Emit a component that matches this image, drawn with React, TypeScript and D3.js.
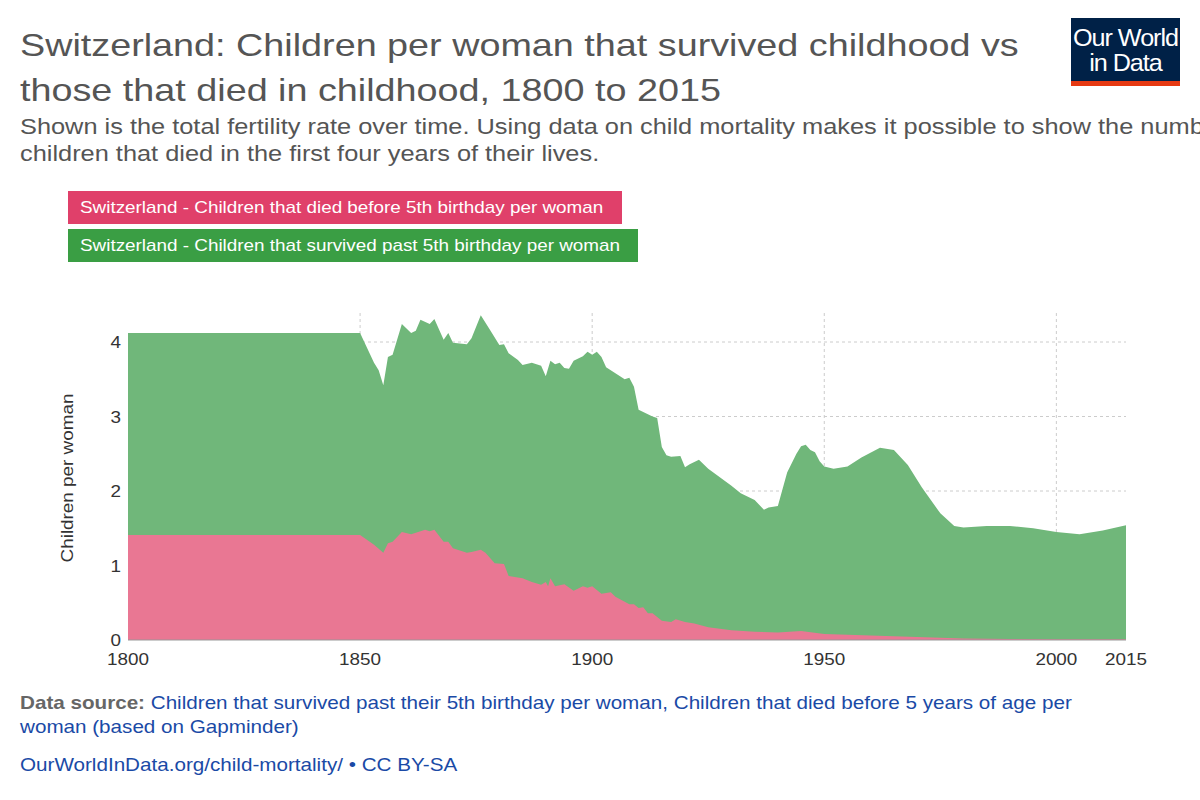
import * as d3 from "d3";

const totalYears = [1800, 1850, 1853, 1854, 1855, 1856, 1857, 1859, 1861, 1862, 1863, 1865, 1866, 1868, 1869, 1870, 1873, 1874, 1876, 1878, 1880, 1881, 1882, 1884, 1885, 1887, 1889, 1890, 1891, 1892, 1893, 1894, 1895, 1896, 1898, 1899, 1900, 1901, 1902, 1903, 1905, 1907, 1908, 1909, 1910, 1913, 1914, 1915, 1916, 1917, 1919, 1920, 1921, 1923, 1925, 1930, 1932, 1935, 1937, 1938, 1940, 1942, 1944, 1945, 1946, 1947, 1948, 1949, 1950, 1952, 1955, 1958, 1962, 1965, 1968, 1971, 1975, 1978, 1980, 1985, 1990, 1995, 2000, 2005, 2010, 2015];
const totalValues = [4.12, 4.12, 3.72, 3.62, 3.42, 3.8, 3.83, 4.24, 4.12, 4.15, 4.3, 4.24, 4.31, 4.03, 4.12, 3.99, 3.97, 4.05, 4.36, 4.16, 3.96, 3.97, 3.85, 3.76, 3.69, 3.72, 3.68, 3.54, 3.75, 3.7, 3.72, 3.65, 3.64, 3.75, 3.81, 3.87, 3.83, 3.87, 3.8, 3.66, 3.58, 3.5, 3.52, 3.4, 3.09, 3.0, 2.98, 2.59, 2.48, 2.46, 2.47, 2.32, 2.36, 2.42, 2.3, 2.07, 1.97, 1.88, 1.75, 1.78, 1.8, 2.25, 2.5, 2.6, 2.62, 2.55, 2.52, 2.4, 2.33, 2.3, 2.33, 2.45, 2.58, 2.55, 2.35, 2.05, 1.7, 1.53, 1.51, 1.53, 1.53, 1.5, 1.45, 1.42, 1.47, 1.54];

const diedYears = [1800, 1850, 1853, 1855, 1856, 1857, 1859, 1861, 1864, 1865, 1866, 1868, 1869, 1870, 1873, 1874, 1876, 1877, 1879, 1881, 1882, 1885, 1887, 1889, 1890, 1890.5, 1891, 1892, 1894, 1896, 1898, 1899, 1900, 1902, 1904, 1905, 1908, 1909, 1910, 1911, 1912, 1913, 1915, 1917, 1918, 1920, 1922, 1925, 1930, 1935, 1940, 1945, 1950, 1955, 1960, 1965, 1970, 1975, 1980, 1990, 2000, 2015];
const diedValues = [1.41, 1.41, 1.28, 1.17, 1.3, 1.32, 1.45, 1.42, 1.48, 1.46, 1.48, 1.32, 1.32, 1.23, 1.17, 1.18, 1.21, 1.17, 1.03, 1.02, 0.86, 0.83, 0.78, 0.74, 0.78, 0.72, 0.83, 0.72, 0.75, 0.66, 0.72, 0.7, 0.72, 0.62, 0.64, 0.58, 0.48, 0.48, 0.43, 0.44, 0.36, 0.36, 0.26, 0.24, 0.28, 0.24, 0.22, 0.17, 0.13, 0.11, 0.1, 0.12, 0.08, 0.07, 0.06, 0.05, 0.04, 0.03, 0.02, 0.015, 0.01, 0.01];

const xTicks = [1800, 1850, 1900, 1950, 2000, 2015];
const yTicks = [0, 1, 2, 3, 4];

const legendItems = [
  { label: "Switzerland - Children that died before 5th birthday per woman", color: "#e0406a", w: 554 },
  { label: "Switzerland - Children that survived past 5th birthday per woman", color: "#3a9e44", w: 570 },
];

const font = "Arial, 'Liberation Sans', sans-serif";
const sx = 1.18;

function T({ x, y, sx: s = sx, children, anchor = "start", ...rest }: any) {
  return (
    <g transform={`translate(${x},${y}) scale(${s},1)`}>
      <text textAnchor={anchor} {...rest}>{children}</text>
    </g>
  );
}

export default function App() {
  const x = d3.scaleLinear().domain([1800, 2015]).range([128, 1126]);
  const y = d3.scaleLinear().domain([0, 4]).range([640, 342]);

  const totalArea = d3
    .area<number>()
    .x((_, i) => x(totalYears[i]))
    .y0(y(0))
    .y1((d) => y(d))(totalValues)!;
  const diedArea = d3
    .area<number>()
    .x((_, i) => x(diedYears[i]))
    .y0(y(0))
    .y1((d) => y(d))(diedValues)!;

  return (
    <svg width={1200} height={800} style={{ position: "absolute", left: 0, top: 0, fontFamily: font }}>
      <rect width={1200} height={800} fill="#fff" />
      <T x={20} y={56} fontSize={32} fill="#555">Switzerland: Children per woman that survived childhood vs</T>
      <T x={20} y={101} fontSize={32} fill="#555">those that died in childhood, 1800 to 2015</T>
      <T x={20} y={134} fontSize={21.5} fill="#555">Shown is the total fertility rate over time. Using data on child mortality makes it possible to show the number of</T>
      <T x={20} y={161} fontSize={21.5} fill="#555">children that died in the first four years of their lives.</T>

      <rect x={1071} y={18} width={109} height={68} fill="#002147" />
      <rect x={1071} y={81} width={109} height={5} fill="#e63912" />
      <T x={1125.5} y={46} sx={1.05} anchor="middle" fontSize={24} fill="#fff" letterSpacing={-1}>Our World</T>
      <T x={1125.5} y={71} sx={1.05} anchor="middle" fontSize={24} fill="#fff" letterSpacing={-1}>in Data</T>

      {legendItems.map((l, i) => (
        <g key={l.label} transform={`translate(68,${191 + i * 38})`}>
          <rect width={l.w} height={33} fill={l.color} />
          <T x={12} y={22} fontSize={16} fill="#fff">{l.label}</T>
        </g>
      ))}

      {yTicks.slice(1).map((t) => (
        <line key={t} x1={128} x2={1126} y1={y(t)} y2={y(t)} stroke="#ccc" strokeDasharray="3,3" />
      ))}
      {xTicks.slice(1, 5).map((t) => (
        <line key={t} x1={x(t)} x2={x(t)} y1={313} y2={640} stroke="#ccc" strokeDasharray="3,3" />
      ))}

      <path d={totalArea} fill="#70b77a" />
      <path d={diedArea} fill="#e97793" />

      <line x1={128} x2={1126} y1={640} y2={640} stroke="#999" />
      {yTicks.map((t) => (
        <T key={t} x={121} y={y(t) + 6} anchor="end" fontSize={16} fill="#333">{t}</T>
      ))}
      {xTicks.map((t) => (
        <T key={t} x={x(t)} y={665} anchor="middle" fontSize={16} fill="#333">{t}</T>
      ))}
      <g transform={`translate(73,478) rotate(-90) scale(${sx},1)`}>
        <text fontSize={16} fill="#333" textAnchor="middle">Children per woman</text>
      </g>

      <T x={20} y={709} fontSize={17.5} fill="#1a4aa6">
        <tspan fill="#666" fontWeight="bold">Data source:</tspan> Children that survived past their 5th birthday per woman, Children that died before 5 years of age per
      </T>
      <T x={20} y={733} fontSize={17.5} fill="#1a4aa6">woman (based on Gapminder)</T>
      <T x={20} y={771} fontSize={17.5} fill="#1a4aa6">OurWorldInData.org/child-mortality/ • CC BY-SA</T>
    </svg>
  );
}
